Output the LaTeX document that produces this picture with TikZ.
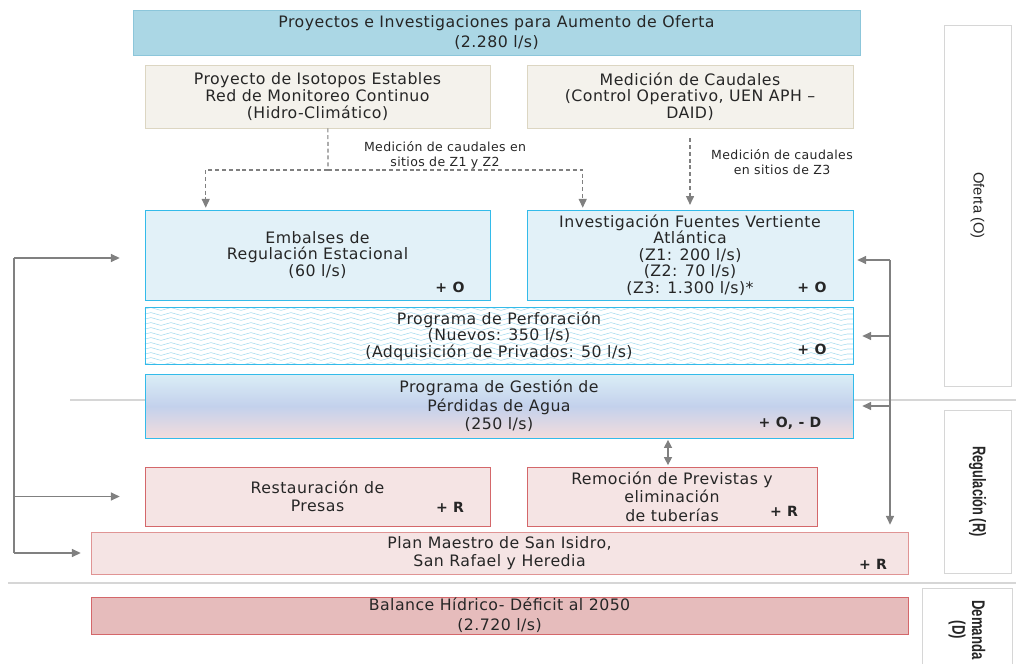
\documentclass[tikz,border=0pt]{standalone}
\usepackage{fontspec}
\setmainfont{DejaVu Sans}[LetterSpace=3]
\newfontfamily\sidefont{Liberation Sans}
\usetikzlibrary{arrows.meta,positioning,backgrounds,%
                decorations.pathmorphing}

\definecolor{txt}{HTML}{262626}
\definecolor{hdrfill}{HTML}{ABD7E5}
\definecolor{hdrline}{HTML}{8CC6DA}
\definecolor{beige}{HTML}{F4F2EC}
\definecolor{beigeline}{HTML}{DCD6C2}
\definecolor{skyfill}{HTML}{E2F1F8}
\definecolor{skyline}{HTML}{33BBEA}
\definecolor{wavecol}{HTML}{A6DBEE}
\definecolor{gradtop}{HTML}{DBEEF6}
\definecolor{gradmid}{HTML}{C3D1EC}
\definecolor{gradbot}{HTML}{F3DCDC}
\definecolor{rosefill}{HTML}{F5E4E4}
\definecolor{roseline}{HTML}{D4676A}
\definecolor{planline}{HTML}{E09494}
\definecolor{deficit}{HTML}{E6BCBC}
\definecolor{arrowgray}{HTML}{808080}
\definecolor{sepgray}{HTML}{D6D6D6}

\newcommand{\pxl}{0.25mm}

\tikzset{
  every node/.style={text=txt},
  box/.style={draw, align=center, inner sep=0pt,
              font=\fontsize{11.2}{11.8}\selectfont},
  hdr/.style={box, draw=hdrline, fill=hdrfill,
              font=\fontsize{11.2}{14}\selectfont},
  plain/.style={box, draw=beigeline, fill=beige},
  sky/.style={box, draw=skyline, fill=skyfill},
  rose/.style={box, draw=roseline, fill=rosefill,
               font=\fontsize{11.2}{13.2}\selectfont},
  tag/.style={font=\bfseries\fontsize{10}{11}\selectfont, inner sep=0pt},
  note/.style={align=center, inner sep=0pt, font=\fontsize{8.9}{10.5}\selectfont},
  side/.style={draw=sepgray, rotate=-90, align=center, inner sep=0pt,
               font=\sidefont\fontsize{10.5}{11}\selectfont},
  conn/.style={draw=arrowgray, line width=1pt,
               -{Triangle[length=2.2mm,width=2mm]}},
  dconn/.style={conn, line width=0.8pt, dash pattern=on 1mm off 0.7mm},
  wave/.style={draw=wavecol, line width=0.4pt, decorate,
               decoration={snake, segment length=5mm, amplitude=0.35mm}},
}

\begin{document}
\begin{tikzpicture}[x=\pxl, y=-\pxl]
  \useasboundingbox (0,0) rectangle (1016,663);

  % oferta
  \node[hdr, minimum width=727*\pxl, minimum height=45*\pxl] (top) at (496.5,32.5)
    {Proyectos e Investigaciones para Aumento de Oferta\\(2.280 l/s)};
  \node[plain, minimum width=345*\pxl, minimum height=63*\pxl] (iso) at (317.5,96.5)
    {Proyecto de Isotopos Estables\\Red de Monitoreo Continuo\\(Hidro-Climático)};
  \node[plain, minimum width=326*\pxl, minimum height=63*\pxl] (med) at (690,96.5)
    {Medición de Caudales\\(Control Operativo, UEN APH –\\DAID)};
  \node[sky, minimum width=345*\pxl, minimum height=90*\pxl] (emb) at (317.5,255)
    {Embalses de\\Regulación Estacional\\(60 l/s)};
  \node[sky, minimum width=326*\pxl, minimum height=90*\pxl] (inv) at (690,255)
    {Investigación Fuentes Vertiente\\Atlántica\\(Z1: 200 l/s)\\(Z2: 70 l/s)\\(Z3: 1.300 l/s)*};
  \node[box, draw=skyline, minimum width=708*\pxl, minimum height=57*\pxl] (perf) at (499,336)
    {Programa de Perforación\\(Nuevos: 350 l/s)\\(Adquisición de Privados: 50 l/s)};
  \node[box, draw=skyline, top color=gradtop, bottom color=gradbot, middle color=gradmid,
        font=\fontsize{11.2}{13}\selectfont,
        minimum width=708*\pxl, minimum height=64*\pxl] (gest) at (499,406)
    {Programa de Gestión de\\Pérdidas de Agua\\(250 l/s)};

  % regulacion
  \node[rose, minimum width=345*\pxl, minimum height=59*\pxl] (res) at (317.5,496.5)
    {Restauración de\\Presas};
  \node[rose, minimum width=290*\pxl, minimum height=59*\pxl] (rem) at (672,496.5)
    {Remoción de Previstas y\\eliminación\\de tuberías};
  \node[rose, draw=planline, minimum width=817*\pxl, minimum height=42*\pxl] (plan) at (499.5,553)
    {Plan Maestro de San Isidro,\\San Rafael y Heredia};

  % demanda
  \node[box, draw=roseline, fill=deficit, font=\fontsize{11.2}{14}\selectfont,
        minimum width=817*\pxl, minimum height=37*\pxl] (bal) at (499.5,615.5)
    {Balance Hídrico- Déficit al 2050\\(2.720 l/s)};

  \node[tag] (embO) at (450,287) {+ O};
  \node[tag] (invO) at (812,287) {+ O};
  \node[tag] (perfO) at (812,349) {+ O};
  \node[tag] (gestO) at (790,423) {+ O, - D};
  \node[tag] (resR) at (450,507) {+ R};
  \node[tag] (remR) at (784,511) {+ R};
  \node[tag] (planR) at (873,564) {+ R};

  \node[side, minimum width=361*\pxl, minimum height=67*\pxl] (of) at (977.5,205.5) {Oferta (O)};
  \node[side, minimum width=163*\pxl, minimum height=67*\pxl,
        font=\sidefont\bfseries\fontsize{13}{15}\selectfont] (reg) at (977.5,491.5)
    {\scalebox{0.7}[1]{Regulación (R)}};
  \node[side, minimum width=84*\pxl, minimum height=90*\pxl,
        font=\sidefont\bfseries\fontsize{13}{14}\selectfont] (dem) at (967,630)
    {\scalebox{0.72}[1]{Demanda}\\\scalebox{0.72}[1]{(D)}};

  % fondo
  \begin{scope}[on background layer]
    \draw[sepgray, line width=0.8pt] (70,400) -- (1016,400);
    \draw[sepgray, line width=0.8pt] (8,583) -- (1016,583);
    \begin{scope}
      \clip (perf.south west) rectangle (perf.north east);
      \foreach \y in {309,314,...,364}
        \draw[wave] (perf.west |- 0,\y) -- (perf.east |- 0,\y);
    \end{scope}
  \end{scope}

  % mediciones
  \coordinate (split) at (328,170);
  \draw[dconn, -] ([xshift=2.6mm]iso.south) -- (split);
  \draw[dconn, shorten >=0.5mm] (split) -| ([xshift=15.25mm]emb.north west);
  \draw[dconn, shorten >=0.5mm] (split) -| ([xshift=14mm]inv.north west);
  \draw[dconn, shorten <=2.5mm, shorten >=1.2mm] (med.south) -- (inv.north);
  \node[note] (z12) at (445,155) {Medición de caudales en\\sitios de Z1 y Z2};
  \node[note] (z3) at (782,162) {Medición de caudales\\en sitios de Z3};

  % lazo izquierdo
  \coordinate (ltop) at (14,258);
  \draw[arrowgray, line width=1pt] (ltop) -- (ltop |- plan.west);
  \draw[conn, shorten >=6.25mm] (ltop) -- (ltop -| emb.west);
  \draw[conn, shorten >=6.25mm] (ltop |- res.west) -- (res.west);
  \draw[conn, shorten >=2.5mm] (ltop |- plan.west) -- (plan.west);

  % lazo derecho
  \coordinate (rtop) at (890,260);
  \draw[conn, shorten >=1mm] (rtop) -- (rtop -| inv.east);
  \draw[conn, shorten >=1.75mm] (rtop) -- (rtop |- plan.north);
  \draw[conn, shorten >=2.25mm] (rtop |- perf.east) -- (perf.east);
  \draw[conn, shorten >=2.25mm] (rtop |- gest.east) -- (gest.east);

  \draw[conn, {Triangle[length=2mm,width=2mm]}-{Triangle[length=2mm,width=2mm]},
        shorten <=0.4mm, shorten >=0.4mm]
    ([xshift=-1mm]rem.north) -- ([xshift=-1mm]rem.north |- gest.south);
\end{tikzpicture}
\end{document}
